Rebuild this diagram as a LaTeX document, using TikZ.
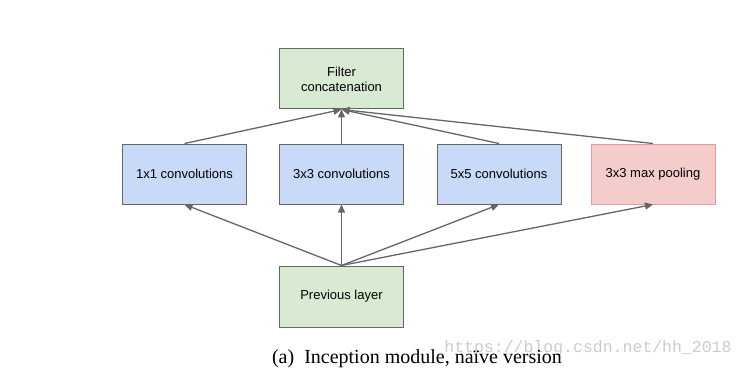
\documentclass[tikz,border=0pt]{standalone}
\usepackage{fontspec}
\setmainfont{Liberation Serif}
\newfontfamily\boxfont{Liberation Sans}
\newfontfamily\markfont{Liberation Mono}
\usetikzlibrary{arrows.meta}
\definecolor{lineg}{HTML}{666666}
\definecolor{boxgreen}{HTML}{D9EAD3}
\definecolor{boxblue}{HTML}{C9DAF8}
\definecolor{boxred}{HTML}{F4CCCC}
\definecolor{edgered}{HTML}{EA9999}
\tikzset{
    layer/.style={draw=lineg, line width=1pt, minimum width=124pt, minimum height=60pt,
        inner sep=0pt, align=center, font=\boxfont\fontsize{13}{15}\selectfont},
    flow/.style={draw=lineg, line width=1.3pt, -{Triangle[length=8pt,width=7pt]}}
}

\begin{document}
\begin{tikzpicture}[x=1pt,y=-1pt]
        \useasboundingbox (0,0) rectangle (745,369);
        % Layers
        \node[layer, fill=boxgreen] (filter) at (341.5,79) {Filter\\concatenation};
        \node[layer, fill=boxblue] (conv1) at (184.5,174) {1x1 convolutions};
        \node[layer, fill=boxblue] (conv3) at (341.5,174) {3x3 convolutions};
        \node[layer, fill=boxblue] (conv5) at (499,174) {5x5 convolutions};
        \node[layer, fill=boxred, draw=edgered] (pool) at (653,174) {3x3 max pooling};
        \node[layer, fill=boxgreen, minimum height=61pt] (prev) at (341.5,296.5) {Previous layer};
        % Connections
        \draw[flow] (prev.north) -- (conv1.south);
        \draw[flow] (prev.north) -- (conv3.south);
        \draw[flow] (prev.north) -- (conv5.south);
        \draw[flow] (prev.north) -- (pool.south);
        \draw[flow] (conv1.north) -- (filter.south);
        \draw[flow] (conv3.north) -- (filter.south);
        \draw[flow] (conv5.north) -- (filter.south);
        \draw[flow] (pool.north) -- (filter.south);
        % Caption
        \node[anchor=base, inner sep=0pt, text=gray!40, font=\markfont\fontsize{16.5}{18}\selectfont] (mark) at (588,352) {https://blog.csdn.net/hh\_2018};
        \node[anchor=base, inner sep=0pt, font=\fontsize{20}{24}\selectfont] (caption) at (417,363) {(a)\enspace Inception module, naïve version};
    \end{tikzpicture}
\end{document}
